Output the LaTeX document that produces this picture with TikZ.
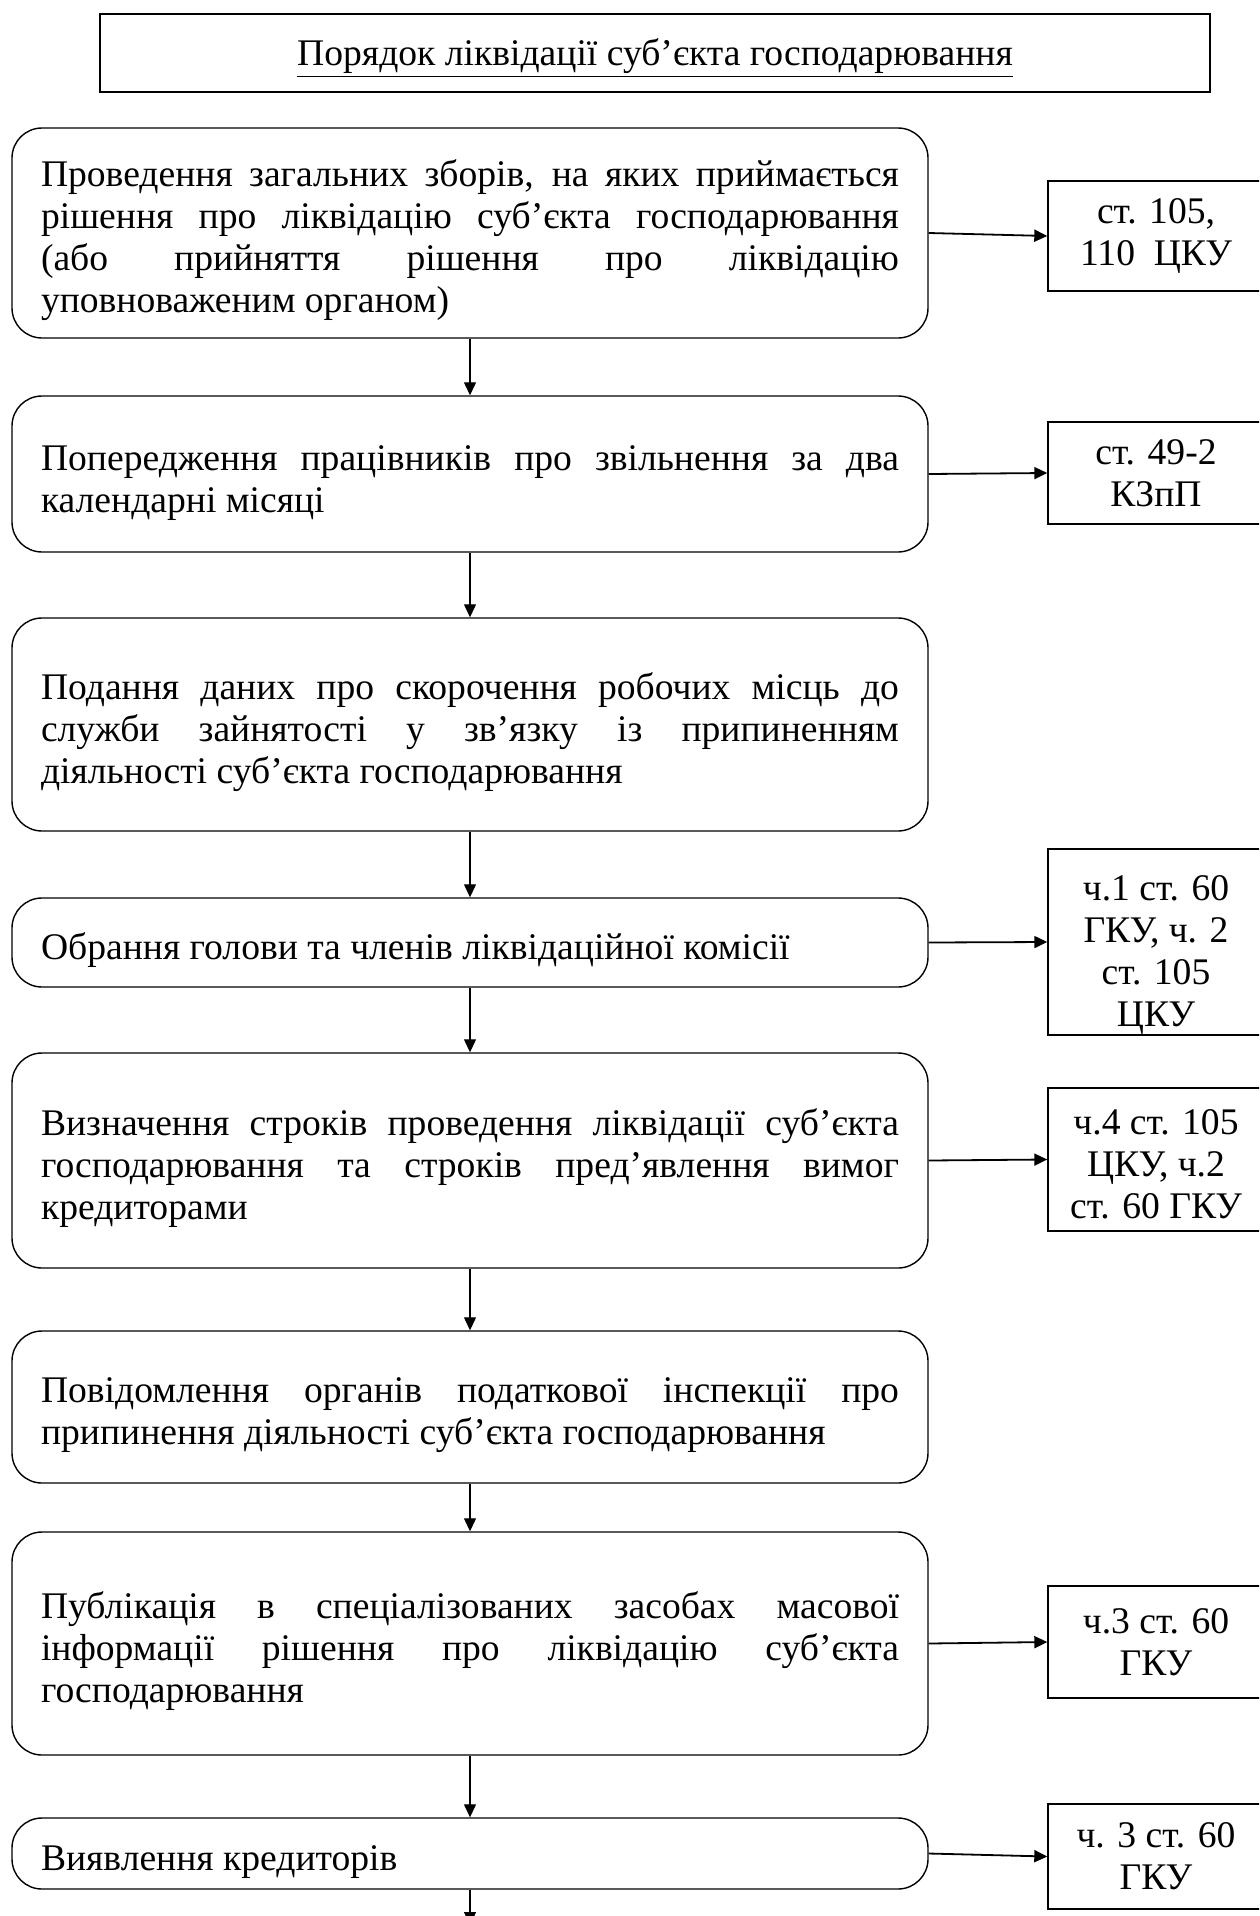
\documentclass[tikz,border=0pt]{standalone}
\usepackage{fontspec}
\setmainfont{Liberation Serif}
\usepackage{tikz}
\usetikzlibrary{shapes,arrows.meta,positioning,calc}
\setlength{\parindent}{0pt}
\tolerance=10000

\begin{document}
\begin{tikzpicture}[
    x=0.5pt, y=0.5pt,
    txt/.style={font=\fontsize{18.8pt}{21pt}\selectfont},
    stage/.style={txt, rectangle, draw, rounded corners=15pt, line width=0.7pt, text width=429pt, inner xsep=14.5pt, inner ysep=2pt, align=justify, execute at begin node={\rule{0pt}{21pt}}},
    law/.style={txt, rectangle, draw, line width=0.7pt, minimum width=108pt, inner xsep=2pt, inner ysep=0.5pt, align=center},
    head/.style={txt, rectangle, draw, line width=0.6pt, minimum width=555pt, minimum height=39pt},
    arrow/.style={-{Triangle[length=6.5pt,width=6pt]}, line width=0.6pt},
    link/.style={arrow, line width=0.9pt}
]
    \path[use as bounding box, clip] (0,0) rectangle (1259,-1916);

    \node[head] (title) at (655,-53) {\rule{0pt}{19pt}\underline{Порядок ліквідації суб’єкта господарювання}};

    % main steps
    \node[stage, minimum height=105pt] (meeting) at (470,-233) {Проведення загальних зборів, на яких приймається\linebreak рішення про ліквідацію суб’єкта господарювання\linebreak (або прийняття рішення про ліквідацію\linebreak уповноваженим органом)};
    \node[stage, minimum height=78pt] (notice) at (470,-474) {Попередження працівників про звільнення за два\linebreak календарні місяці};
    \node[stage, minimum height=106.5pt] (employ) at (470,-724.5) {Подання даних про скорочення робочих місць до\linebreak служби зайнятості у зв’язку із припиненням\linebreak діяльності суб’єкта господарювання};
    \node[stage, minimum height=44.5pt] (commission) at (470,-942.5) {Обрання голови та членів ліквідаційної комісії};
    \node[stage, minimum height=107.5pt] (terms) at (470,-1160.5) {Визначення строків проведення ліквідації суб’єкта\linebreak господарювання та строків пред’явлення вимог\linebreak кредиторами};
    \node[stage, minimum height=76pt] (tax) at (470,-1407) {Повідомлення органів податкової інспекції про\linebreak припинення діяльності суб’єкта господарювання};
    \node[stage, minimum height=111.5pt] (publish) at (470,-1643.5) {Публікація в спеціалізованих засобах масової\linebreak інформації рішення про ліквідацію суб’єкта\linebreak господарювання};
    \node[stage, minimum height=35.5pt] (creditors) at (470,-1853.5) {Виявлення кредиторів};
    \coordinate (tail) at (470,-1925);

    % legal references
    \node[law, minimum height=55pt] (cku1) at (1156,-236) {ст. 105,\\110~~ЦКУ};
    \node[law, minimum height=51pt] (kzpp) at (1156,-473) {ст. 49-2\\КЗпП};
    \node[law, minimum height=92pt] (gku1) at (1156,-942) {\rule{0pt}{25pt}ч.1 ст. 60\\ГКУ, ч. 2\\ст. 105\\ЦКУ};
    \node[law, minimum height=71.5pt] (cku2) at (1156,-1159.5) {\rule{0pt}{17pt}ч.4 ст. 105\\ЦКУ, ч.2\\ст. 60 ГКУ};
    \node[law, minimum height=56pt] (gku2) at (1156,-1642) {ч.3 ст. 60\\ГКУ};
    \node[law, minimum height=52.5pt] (gku3) at (1156,-1856.5) {ч. 3 ст. 60\\ГКУ};

    \draw[arrow] (meeting) -- (notice);
    \draw[arrow] (notice) -- (employ);
    \draw[arrow] (employ) -- (commission);
    \draw[arrow] (commission) -- (terms);
    \draw[arrow] (terms) -- (tax);
    \draw[arrow] (tax) -- (publish);
    \draw[arrow] (publish) -- (creditors);
    \draw[arrow] (creditors) -- (tail);

    \draw[link] (meeting.east) -- (cku1.west);
    \draw[link] (notice.east) -- (kzpp.west);
    \draw[link] (commission.east) -- (gku1.west);
    \draw[link] (terms.east) -- (cku2.west);
    \draw[link] (publish.east) -- (gku2.west);
    \draw[link] (creditors.east) -- (gku3.west);
\end{tikzpicture}
\end{document}
